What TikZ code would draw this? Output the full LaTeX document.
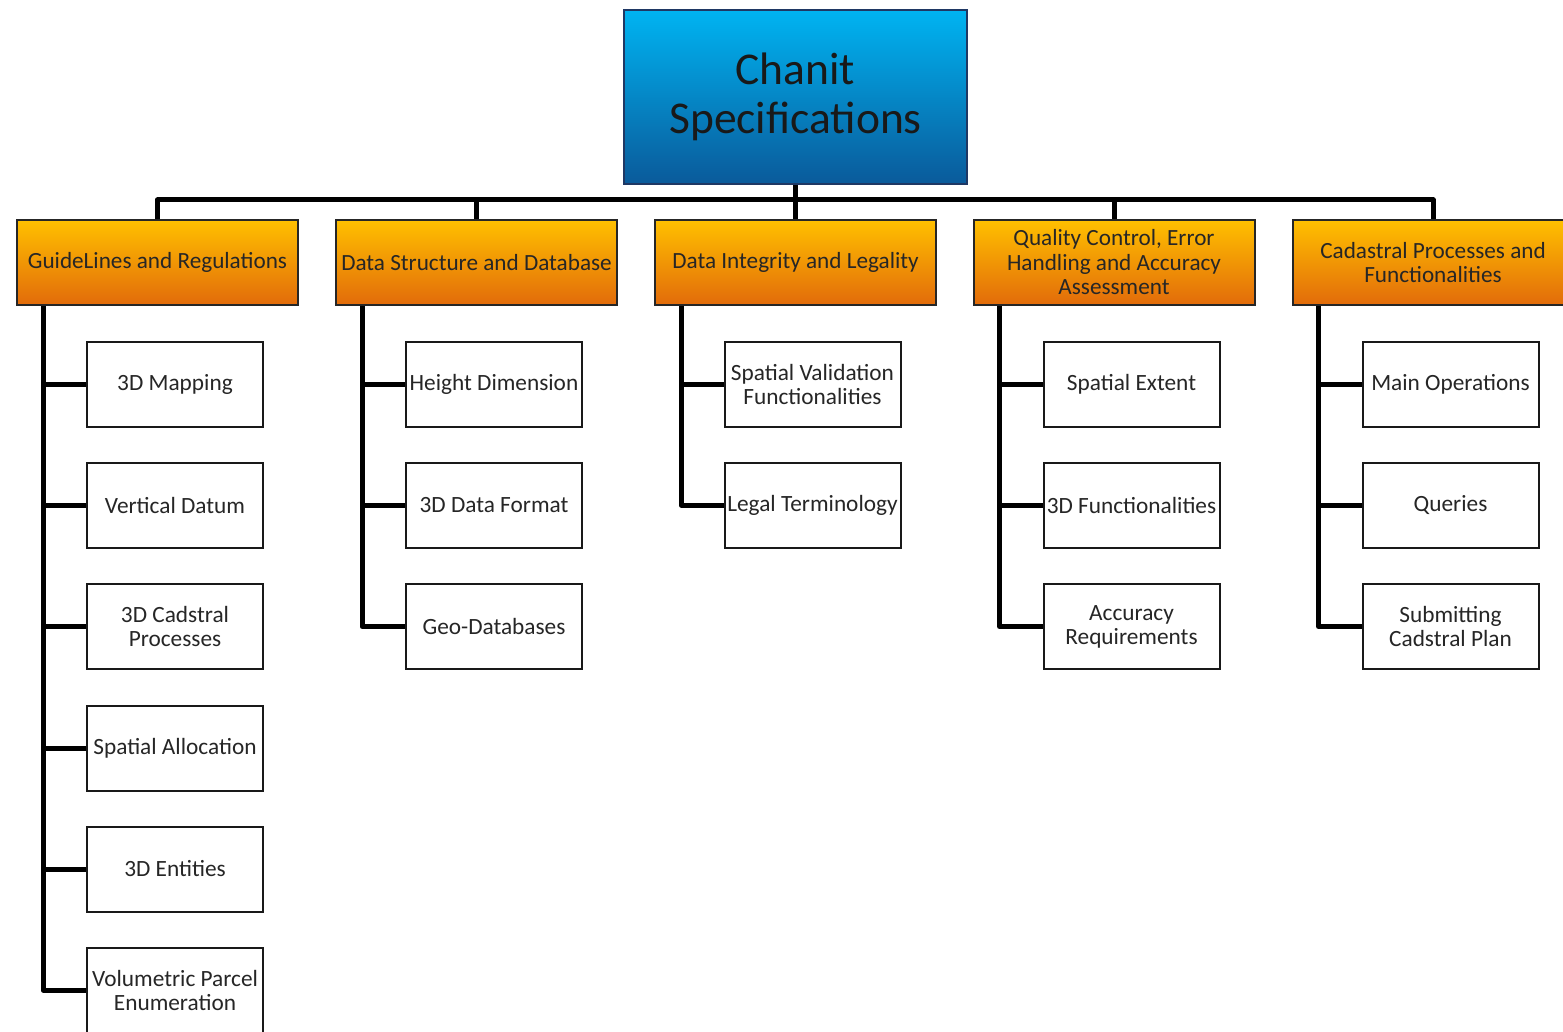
\documentclass[tikz,border=0pt]{standalone}
\usepackage{fontspec}
\setmainfont{Carlito}
\definecolor{rtop}{HTML}{00B4F2}
\definecolor{rbot}{HTML}{0A5A9A}
\definecolor{rline}{HTML}{1F3864}
\definecolor{htop}{HTML}{FFC000}
\definecolor{hmid}{HTML}{FBB400}
\definecolor{hbot}{HTML}{E26B0A}
\definecolor{txt}{HTML}{262626}
\begin{document}
\begin{tikzpicture}[x=1pt,y=-1pt,
  rootbox/.style={draw=rline,line width=2pt,top color=rtop,bottom color=rbot,
    minimum width=343pt,minimum height=174pt,inner sep=1pt,align=center,
    font=\fontsize{45.5}{49}\selectfont,text=black!90},
  headbox/.style={draw=black!85,line width=2pt,top color=htop,middle color=hmid,bottom color=hbot,
    minimum width=281pt,minimum height=85pt,inner sep=1pt,align=center,
    font=\fontsize{23.2}{24.5}\selectfont,text=txt},
  leafbox/.style={draw=black!90,line width=2pt,fill=white,
    minimum width=176pt,minimum height=85pt,inner sep=1pt,align=center,
    font=\fontsize{23.3}{24}\selectfont,text=txt},
  conn/.style={line width=5pt,black,line join=round}]
\clip (0,0) rectangle (1563,1032);
\fill[white] (0,0) rectangle (1563,1032);
% root
\node[rootbox] (root) at (795.5,97) {Chanit\\Specifications};
% headers
\node[headbox] (h1) at (157.5,262.5) {GuideLines and Regulations};
\node[headbox] (h2) at (476.5,262.5) {Data Structure and Database};
\node[headbox] (h3) at (795.5,262.5) {Data Integrity and Legality};
\node[headbox] (h4) at (1114,262.5) {Quality Control, Error\\Handling and Accuracy\\Assessment};
\node[headbox] (h5) at (1433,262.5) {Cadastral Processes and\\Functionalities};
% bus
\draw[conn] (root.south) -- (h3.north);
\draw[conn] (h1.north) -- ++(0,-19) -| (h5.north);
\draw[conn] (h2.north) -- ++(0,-19);
\draw[conn] (h4.north) -- ++(0,-19);
% column 1
\node[leafbox] (c11) at (175,384) {3D Mapping};
\node[leafbox] (c12) at (175,505) {Vertical Datum};
\node[leafbox] (c13) at (175,626.5) {3D Cadstral\\Processes};
\node[leafbox] (c14) at (175,748) {Spatial Allocation};
\node[leafbox] (c15) at (175,869) {3D Entities};
\node[leafbox] (c16) at (175,990) {Volumetric Parcel\\Enumeration};
% column 2
\node[leafbox] (c21) at (494,384) {Height Dimension};
\node[leafbox] (c22) at (494,505) {3D Data Format};
\node[leafbox] (c23) at (494,626.5) {Geo-Databases};
% column 3
\node[leafbox] (c31) at (812.5,384) {Spatial Validation\\Functionalities};
\node[leafbox] (c32) at (812.5,505) {Legal Terminology};
% column 4
\node[leafbox] (c41) at (1131.5,384) {Spatial Extent};
\node[leafbox] (c42) at (1131.5,505) {3D Functionalities};
\node[leafbox] (c43) at (1131.5,626.5) {Accuracy\\Requirements};
% column 5
\node[leafbox] (c51) at (1450.5,384) {Main Operations};
\node[leafbox] (c52) at (1450.5,505) {Queries};
\node[leafbox] (c53) at (1450.5,626.5) {Submitting\\Cadstral Plan};
% connectors
\foreach \c in {c11,c12,c13,c14,c15,c16}
  \draw[conn] ([xshift=27pt]h1.south west) |- (\c.west);
\foreach \c in {c21,c22,c23}
  \draw[conn] ([xshift=27pt]h2.south west) |- (\c.west);
\foreach \c in {c31,c32}
  \draw[conn] ([xshift=27pt]h3.south west) |- (\c.west);
\foreach \c in {c41,c42,c43}
  \draw[conn] ([xshift=27pt]h4.south west) |- (\c.west);
\foreach \c in {c51,c52,c53}
  \draw[conn] ([xshift=27pt]h5.south west) |- (\c.west);
\end{tikzpicture}
\end{document}
